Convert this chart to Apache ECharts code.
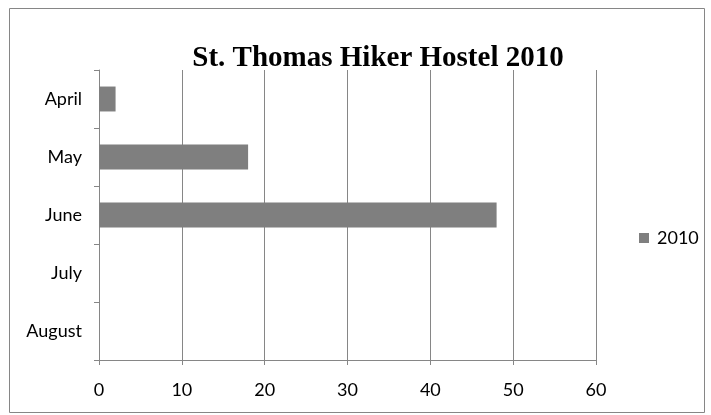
<!DOCTYPE html>
<html>
<head>
<meta charset="utf-8">
<script src="https://cdn.jsdelivr.net/npm/echarts@6/dist/echarts.min.js"></script>
<style>
  html, body { margin: 0; padding: 0; background: #fff; }
  #chart { width: 711px; height: 415px; }
</style>
</head>
<body>
<div id="chart"></div>
<script>
  // data
  var months = ['April', 'May', 'June', 'July', 'August'];
  var guests2010 = [2, 18, 48, 0, 0];
  var xTicks = [0, 10, 20, 30, 40, 50, 60];

  var chart = echarts.init(document.getElementById('chart'));
  chart.setOption({
    animation: false,
    graphic: [{
      type: 'rect',
      shape: { x: 9.5, y: 8.5, width: 695, height: 404 },
      style: { fill: 'none', stroke: '#868686', lineWidth: 1 },
      silent: true
    }],
    title: {
      text: 'St. Thomas Hiker Hostel 2010',
      left: 373,
      top: 39,
      textAlign: 'center',
      textStyle: {
        fontFamily: 'Liberation Serif',
        fontWeight: 'bold',
        fontSize: 29,
        color: '#000'
      }
    },
    legend: {
      data: ['2010'],
      orient: 'vertical',
      left: 634,
      top: 224,
      itemWidth: 10,
      itemHeight: 10,
      icon: 'rect',
      textStyle: { fontFamily: 'Lato', fontSize: 18, color: '#000', padding: [0, 0, 0, 3] }
    },
    grid: { left: 99, right: 115, top: 70, bottom: 55 },
    xAxis: {
      type: 'value',
      min: xTicks[0],
      max: xTicks[xTicks.length - 1],
      interval: 10,
      axisLine: { show: true, lineStyle: { color: '#868686' } },
      axisTick: { show: true, length: 5, lineStyle: { color: '#868686' } },
      splitLine: { show: true, lineStyle: { color: '#868686' } },
      axisLabel: { fontFamily: 'Lato', fontSize: 18, color: '#000', margin: 21 }
    },
    yAxis: {
      type: 'category',
      inverse: true,
      data: months,
      axisLine: { show: true, lineStyle: { color: '#868686' } },
      axisTick: { show: true, length: 5, lineStyle: { color: '#868686' } },
      splitLine: { show: false },
      axisLabel: { fontFamily: 'Lato', fontSize: 18, color: '#000', margin: 17 }
    },
    series: [{
      name: '2010',
      type: 'bar',
      data: guests2010,
      barWidth: '43%',
      itemStyle: { color: '#7f7f7f' }
    }]
  });
</script>
</body>
</html>
